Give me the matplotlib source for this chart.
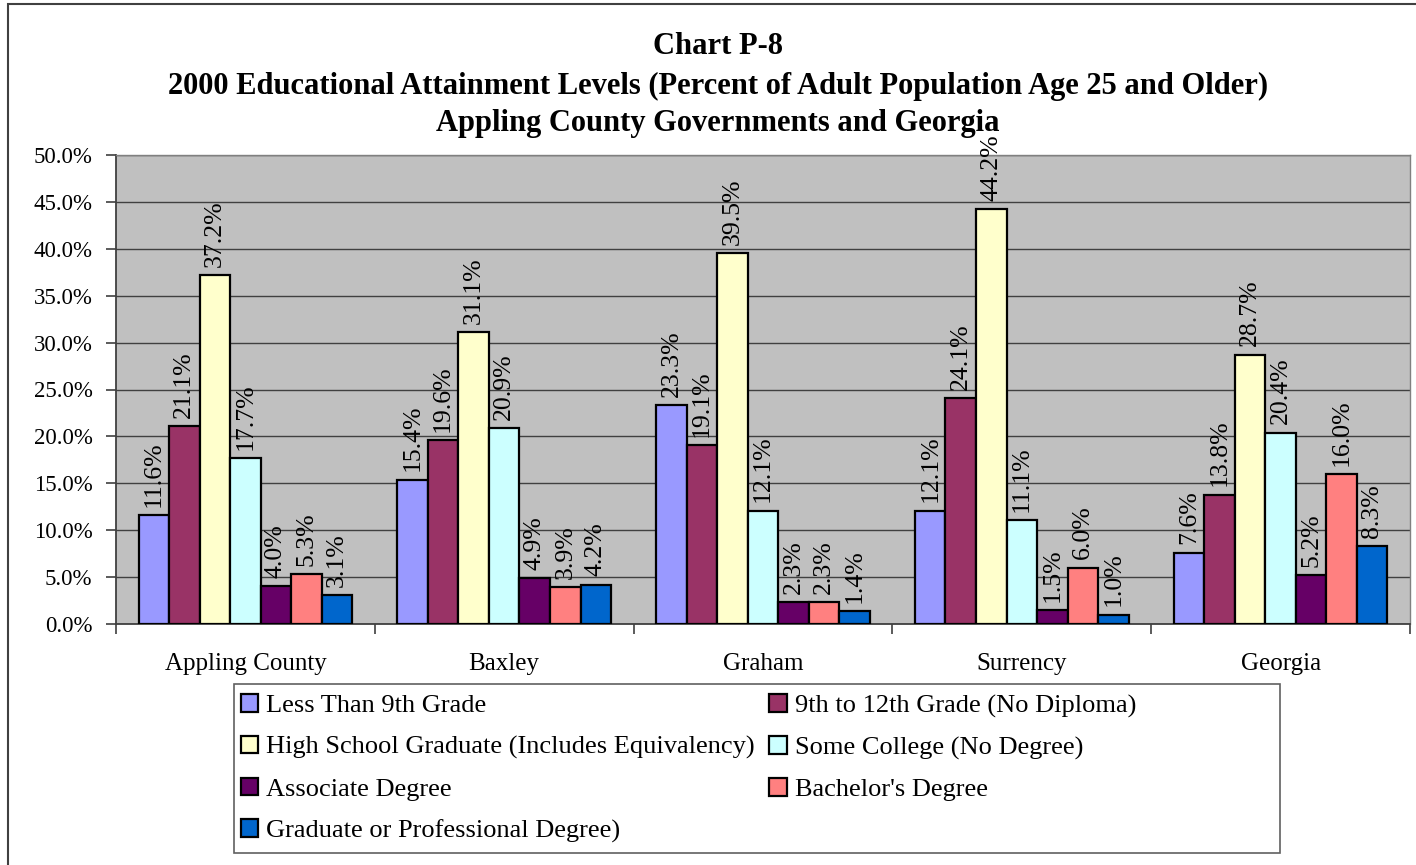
import matplotlib
matplotlib.use("Agg")
import matplotlib.pyplot as plt
import numpy as np
from matplotlib.patches import Rectangle
from matplotlib.ticker import FuncFormatter, MultipleLocator

plt.rcParams["font.family"] = ["Liberation Serif", "DejaVu Serif"]

places = ["Appling County", "Baxley", "Graham", "Surrency", "Georgia"]
levels = [
    "Less Than 9th Grade",
    "9th to 12th Grade (No Diploma)",
    "High School Graduate (Includes Equivalency)",
    "Some College (No Degree)",
    "Associate Degree",
    "Bachelor's Degree",
    "Graduate or Professional Degree)",
]
less_9th = [11.6, 15.4, 23.3, 12.1, 7.6]
grade_9_12 = [21.1, 19.6, 19.1, 24.1, 13.8]
high_school = [37.2, 31.1, 39.5, 44.2, 28.7]
some_college = [17.7, 20.9, 12.1, 11.1, 20.4]
associate = [4.0, 4.9, 2.3, 1.5, 5.2]
bachelor = [5.3, 3.9, 2.3, 6.0, 16.0]
graduate = [3.1, 4.2, 1.4, 1.0, 8.3]
series = [less_9th, grade_9_12, high_school, some_college, associate, bachelor, graduate]
colors = ["#9999FF", "#993366", "#FFFFCC", "#CCFFFF", "#660066", "#FF8080", "#0066CC"]

W, H = 1416, 865
fig = plt.figure(figsize=(W / 100, H / 100), dpi=100)
ax = fig.add_axes([116 / W, 1 - 624 / H, (1410 - 116) / W, (624 - 155) / H])
ax.set_facecolor("#C0C0C0")

x = np.arange(len(places))
width = 0.118
handles = []
for i, (vals, col) in enumerate(zip(series, colors)):
    pos = x + (i - 3) * width
    bars = ax.bar(pos, vals, width, color=col, edgecolor="black", linewidth=1.6,
                  label=levels[i], zorder=3)
    handles.append(bars)
    for b, v in zip(bars, vals):
        ax.annotate(f"{v:.1f}%", (b.get_x() + b.get_width() / 2, v), xytext=(0, 6),
                    textcoords="offset points", rotation=90, ha="center", va="bottom",
                    fontsize=18.5, zorder=4)

ax.set_xlim(-0.5, len(places) - 0.5)
ax.set_ylim(0, 50)
ax.yaxis.set_major_locator(MultipleLocator(5))
ax.yaxis.set_major_formatter(FuncFormatter(lambda v, _: f"{v:.1f}%"))
ax.grid(axis="y", color="#404040", linewidth=1.0, zorder=1)
ax.set_axisbelow(True)

ax.set_xticks(x)
ax.set_xticklabels(places, fontsize=18)
ax.tick_params(axis="x", length=0, pad=21)
ax.set_xticks(np.arange(len(places) + 1) - 0.5, minor=True)
ax.tick_params(axis="x", which="minor", length=7, width=1.2, color="#404040")
ax.tick_params(axis="y", labelsize=16.5, length=7, width=1.2, color="#404040", pad=10)
for side in ["left", "bottom"]:
    ax.spines[side].set_color("#404040")
    ax.spines[side].set_linewidth(1.3)
for side in ["top", "right"]:
    ax.spines[side].set_color("#808080")
    ax.spines[side].set_linewidth(1.0)

title_lines = [
    "Chart P-8",
    "2000 Educational Attainment Levels (Percent of Adult Population Age 25 and Older)",
    "Appling County Governments and Georgia",
]
for line, y in zip(title_lines, [47, 86, 123]):
    fig.text(718 / W, 1 - y / H, line, ha="center", va="center", fontsize=22, fontweight="bold")

# two-column legend filled row by row, boxed separately
order = [0, 2, 4, 6, 1, 3, 5]
fig.legend([handles[i] for i in order], [levels[i] for i in order], ncol=2,
           loc="upper left", bbox_to_anchor=(236 / W, 1 - 689 / H),
           fontsize=19, frameon=False, handlelength=0.65, handleheight=0.65,
           handletextpad=0.3, columnspacing=0.55, labelspacing=0.7,
           borderpad=0.2, borderaxespad=0)
fig.patches.append(Rectangle((234 / W, 1 - 853 / H), (1280 - 234) / W, (853 - 684) / H,
                             transform=fig.transFigure, fill=False,
                             edgecolor="#606060", linewidth=1.2))

fig.patches.append(Rectangle((8 / W, -0.01), 1.0, 1 - 4 / H + 0.01, transform=fig.transFigure,
                             fill=False, edgecolor="#404040", linewidth=1.5))

fig.savefig("out.png", dpi=100)
